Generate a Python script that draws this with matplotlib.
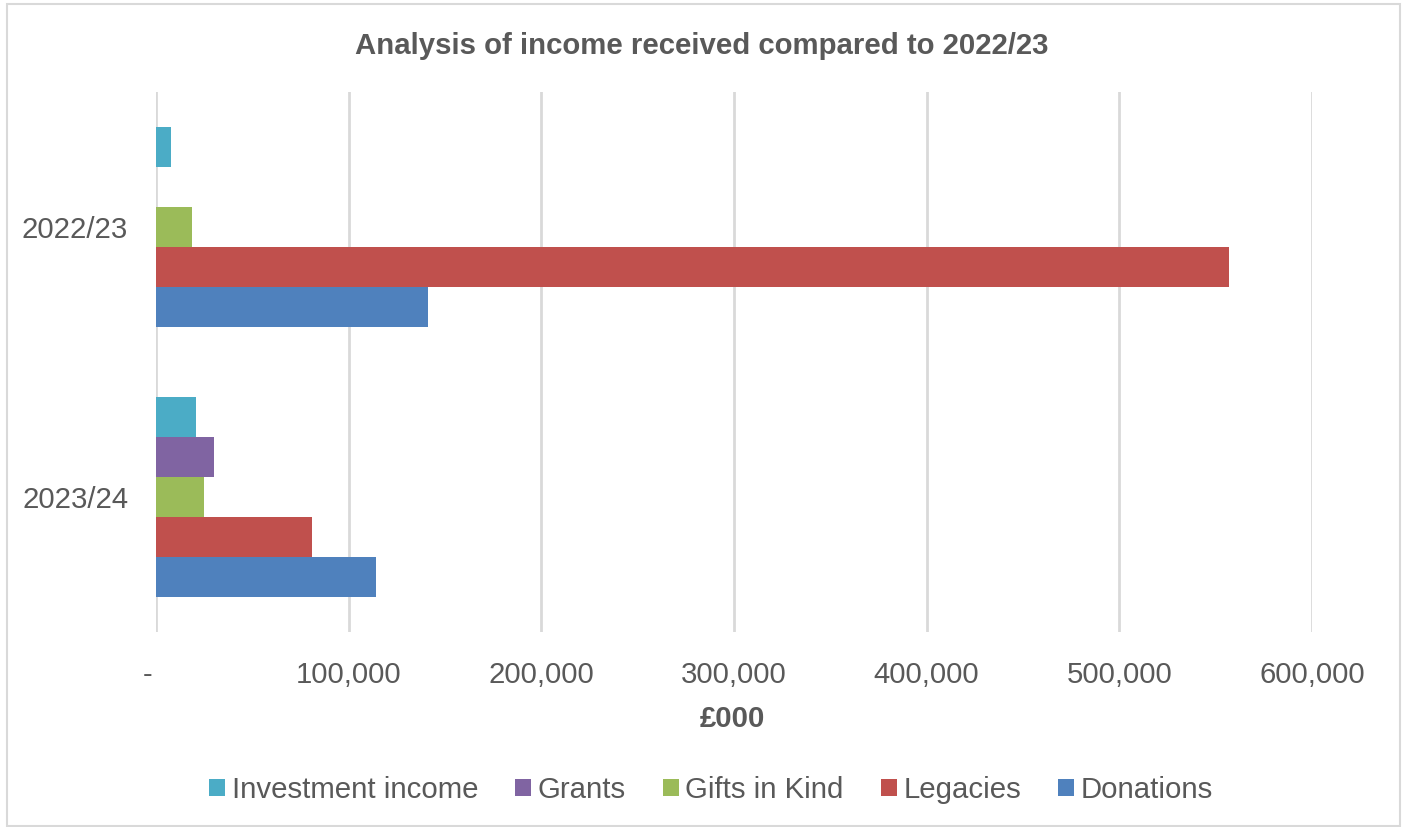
import matplotlib
matplotlib.use("Agg")
import matplotlib.pyplot as plt
from matplotlib.patches import Rectangle, Patch
from matplotlib.ticker import FuncFormatter
import numpy as np

categories = ["2023/24", "2022/23"]
series_names = ["Donations", "Legacies", "Gifts in Kind", "Grants", "Investment income"]
donations = [114000, 141300]
legacies = [81000, 557000]
gifts_in_kind = [24800, 18900]
grants = [30200, 0]
investment_income = [20800, 7800]
series_values = [donations, legacies, gifts_in_kind, grants, investment_income]
colors = ["#4F81BD", "#C0504D", "#9BBB59", "#8064A2", "#4BACC6"]
xticks = [0, 100000, 200000, 300000, 400000, 500000, 600000]

plt.rcParams['font.family'] = ['Liberation Sans', 'DejaVu Sans']
text_color = "#595959"
fs = 21.2

fig = plt.figure(figsize=(14.03, 8.27), dpi=100)
ax = fig.add_axes([156/1403, 1-632/827, (1312-156)/1403, (632-92)/827])

h = 40/270
y = np.arange(len(categories))
for i, (vals, c, name) in enumerate(zip(series_values, colors, series_names)):
    ax.barh(y + (i-2)*h, vals, height=h, color=c, edgecolor='none', label=name, zorder=3)

ax.set_ylim(-0.5, 1.5)
ax.set_xlim(0, 600000)
ax.set_xticks(xticks)
ax.xaxis.set_major_formatter(FuncFormatter(lambda v, p: "-  " if v == 0 else f"{int(v):,}"))
ax.set_yticks(y)
ax.set_yticklabels(categories)
ax.tick_params(axis='both', length=0, labelsize=fs, colors=text_color)
ax.tick_params(axis='x', pad=21)
ax.tick_params(axis='y', pad=20)
ax.grid(axis='x', color="#D9D9D9", linewidth=2, zorder=0)
for s in ax.spines.values():
    s.set_visible(False)

fig.text(0.5, 1-46/827, "Analysis of income received compared to 2022/23", ha='center', va='center',
         fontsize=21.2, fontweight='bold', color=text_color)
fig.text(732/1403, 1-719/827, "£000", ha='center', va='center', fontsize=fs,
         fontweight='bold', color=text_color)

handles = [Patch(facecolor=c, edgecolor='none') for c in colors[::-1]]
labels = series_names[::-1]
leg = fig.legend(handles, labels, loc='center', bbox_to_anchor=(711/1403, 1-790/827), ncol=5,
                 frameon=False, fontsize=fs, handlelength=0.55, handleheight=0.55,
                 handletextpad=0.22, columnspacing=1.25, labelcolor=text_color)

fig.patches.append(Rectangle((7/1403, 1-826/827), (1400-7)/1403, (826-4)/827, transform=fig.transFigure,
                             fill=False, edgecolor="#D9D9D9", linewidth=1.5))

fig.savefig("out.png", dpi=100)
